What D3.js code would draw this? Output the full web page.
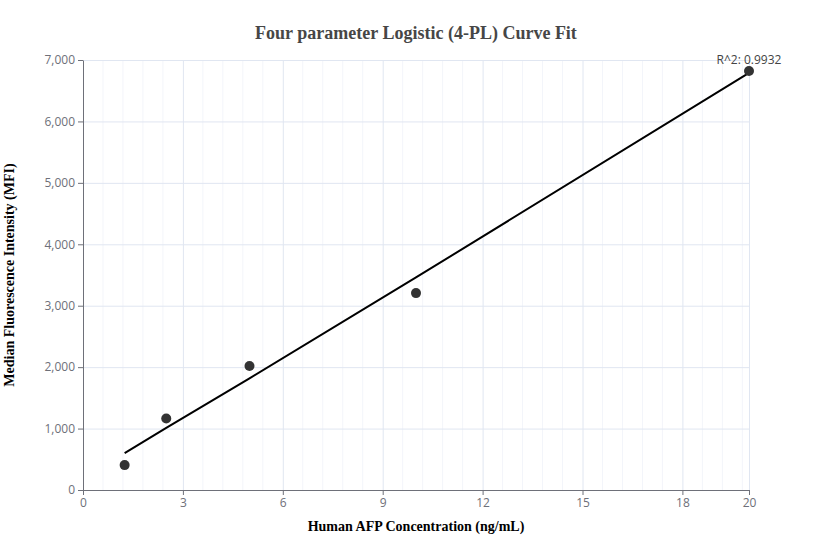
<!DOCTYPE html>
<html lang="en">
<head>
  <meta charset="UTF-8"/>
  <title>Four parameter Logistic (4-PL) Curve Fit</title>
  <script src="https://d3js.org/d3.v7.min.js"></script>
  <style>
  body {
    margin: 0;
    background: #fff;
  }

  svg {
    display: block;
  }

  .tick text {
    font-family: 'Open Sans', 'Noto Sans', sans-serif;
    font-size: 12px;
    fill: #6E7079;
  }

  .axis path, .axis line {
    stroke: #6E7079;
  }

  .grid line {
    stroke: #E0E6F1;
  }

  .grid path {
    stroke-width: 0;
  }

  .minor line {
    stroke: #F3F5FA;
  }

  text.title {
    font-family: 'Liberation Serif', 'DejaVu Serif', serif;
    font-size: 18px;
    font-weight: bold;
    fill: #464646;
  }

  text.label {
    font-family: 'Liberation Serif', 'DejaVu Serif', serif;
    font-size: 14px;
    font-weight: bold;
    fill: #000;
  }

  text.r2 {
    font-family: 'Open Sans', 'Noto Sans', sans-serif;
    font-size: 12px;
    fill: #444;
  }
  </style>
</head>
<body>
  <svg width="832" height="560"></svg>

  <script>
    // measured points (concentration ng/mL, MFI)
    const conc = [1.25, 2.5, 5, 10, 20];
    const mfi = [405, 1165, 2020, 3205, 6820];
    // fitted 4-PL values at the same concentrations
    const fitted = [602, 1012, 1818, 3460, 6790];
    const xTicks = [0, 3, 6, 9, 12, 15, 18, 20];
    const yTicks = [0, 1000, 2000, 3000, 4000, 5000, 6000, 7000];
    const r2 = '0.9932';

    const svg = d3.select('svg');

    const mLeft = 83, mRight = 749, mTop = 60, mBottom = 490;
    const width = mRight - mLeft;
    const height = mBottom - mTop;

    const chart = svg.append('g')
      .attr('transform', `translate(${mLeft}, ${mTop})`);

    const xScale = d3.scaleLinear()
      .domain([0, 20])
      .range([0, width]);

    const yScale = d3.scaleLinear()
      .domain([0, 7000])
      .range([height, 0]);

    // minor vertical grid, 5 splits per major step
    const minorX = d3.range(0, 20.001, 0.6).filter(v => Math.abs(v / 3 - Math.round(v / 3)) > 0.01);
    chart.append('g')
      .attr('class', 'grid minor')
      .selectAll('line')
      .data(minorX)
      .enter()
      .append('line')
      .attr('x1', d => xScale(d))
      .attr('x2', d => xScale(d))
      .attr('y1', 0)
      .attr('y2', height);

    // major grid lines
    chart.append('g')
      .attr('class', 'grid')
      .attr('transform', `translate(0, ${height})`)
      .call(d3.axisBottom(xScale)
        .tickValues(xTicks.slice(1))
        .tickSize(-height)
        .tickFormat('')
      );

    chart.append('g')
      .attr('class', 'grid')
      .call(d3.axisLeft(yScale)
        .tickValues(yTicks.slice(1))
        .tickSize(-width)
        .tickFormat('')
      );

    // axes
    chart.append('g')
      .attr('class', 'axis')
      .attr('transform', `translate(0, ${height})`)
      .call(d3.axisBottom(xScale)
        .tickValues(xTicks)
        .tickSize(5)
        .tickSizeOuter(0)
        .tickPadding(3)
        .tickFormat(d3.format('d'))
      );

    chart.append('g')
      .attr('class', 'axis')
      .call(d3.axisLeft(yScale)
        .tickValues(yTicks)
        .tickSize(5)
        .tickSizeOuter(0)
        .tickPadding(3)
        .tickFormat(d3.format(','))
      );

    // fitted curve
    const line = d3.line()
      .x((d, i) => xScale(conc[i]))
      .y(d => yScale(d));

    chart.append('path')
      .datum(fitted)
      .attr('fill', 'none')
      .attr('stroke', '#000')
      .attr('stroke-width', 2)
      .attr('d', line);

    // data points
    chart.selectAll('circle')
      .data(mfi)
      .enter()
      .append('circle')
      .attr('cx', (d, i) => xScale(conc[i]))
      .attr('cy', d => yScale(d))
      .attr('r', 5)
      .attr('fill', '#333');

    const last = conc.length - 1;
    chart.append('text')
      .attr('class', 'r2')
      .attr('x', xScale(conc[last]))
      .attr('y', yScale(mfi[last]) - 7)
      .attr('text-anchor', 'middle')
      .text(`R^2: ${r2}`);

    svg.append('text')
      .attr('class', 'title')
      .attr('x', 416)
      .attr('y', 39)
      .attr('text-anchor', 'middle')
      .text('Four parameter Logistic (4-PL) Curve Fit');

    svg.append('text')
      .attr('class', 'label')
      .attr('x', mLeft + width / 2)
      .attr('y', 531)
      .attr('text-anchor', 'middle')
      .text('Human AFP Concentration (ng/mL)');

    svg.append('text')
      .attr('class', 'label')
      .attr('transform', `translate(14, ${mTop + height / 2}) rotate(-90)`)
      .attr('text-anchor', 'middle')
      .text('Median Fluorescence Intensity (MFI)');
  </script>
</body>
</html>
